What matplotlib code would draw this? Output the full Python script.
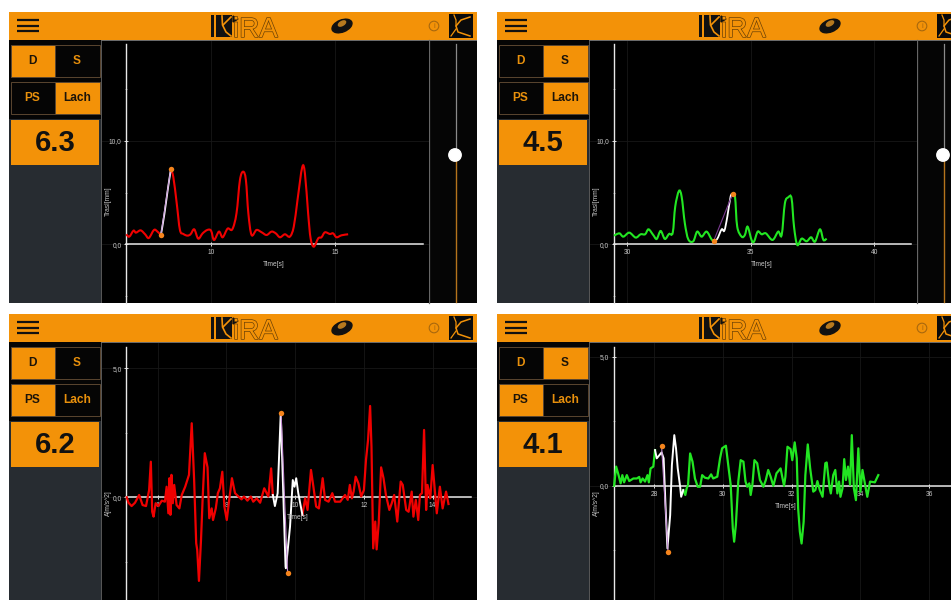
# -*- coding: utf-8 -*-
import matplotlib
matplotlib.use("Agg")
import matplotlib.pyplot as plt
import matplotlib.patches as patches
import matplotlib.patheffects as pe
from matplotlib.path import Path

plt.rcParams['font.family'] = ['Liberation Sans', 'DejaVu Sans']

ORANGE = '#f39208'
SIDE = '#272c31'
RED = '#f00000'
GREEN = '#22e622'

# ---- data ----
# top left, displacement
t1a = [6.56,6.68,6.85,6.95,7.14,7.32,7.47,7.68,7.82,7.96]
v1a = [0.97,0.74,1.32,1.13,1.35,0.97,0.61,1.39,1.23,0.90]
t1w = [7.96,8.10,8.25,8.36]
v1w = [0.90,2.90,5.50,7.19]
t1b = [8.36,8.46,8.60,8.73,8.87,9.03,9.16,9.31,9.47,9.65,9.84,9.99,10.11,10.31,10.46,10.66,10.85,11.02,11.16,11.29,11.40,11.50,11.63,11.83,12.04,12.24,12.44,12.61,12.78,12.98,13.18,13.34,13.49,13.68,13.79,13.92,14.02,14.15,14.33,14.46,14.60,14.80,14.93,15.07,15.27,15.54]
v1b = [7.19,6.55,3.97,1.39,1.00,0.84,0.97,1.45,0.55,1.06,1.39,1.32,0.42,1.23,0.68,1.52,1.45,3.00,6.23,7.03,6.23,3.00,0.90,1.39,1.16,0.90,1.23,1.06,0.68,0.97,0.74,1.71,4.29,7.45,6.87,3.00,0.58,-0.23,0.58,0.68,1.16,1.00,1.06,0.68,0.87,0.97]
t1m = [7.96,8.36]
v1m = [0.90,7.30]

# top right, displacement
t2a = [29.46,29.68,29.84,30.08,30.34,30.54,30.72,30.86,31.05,31.19,31.35,31.52,31.69,31.84,31.94,32.09,32.20,32.33,32.47,32.67,32.83,33.01,33.21,33.41,33.50]
v2a = [0.84,1.06,0.74,1.13,0.65,0.97,0.97,1.45,0.90,0.52,1.29,0.52,1.00,1.13,3.65,5.16,4.61,2.03,0.48,0.29,1.23,0.74,1.23,0.48,0.35]
t2w = [33.50,33.64,33.82,33.93,34.05,34.18,34.26]
v2w = [0.35,0.52,1.45,1.32,2.68,4.61,4.87]
t2b = [34.26,34.36,34.45,34.63,34.76,34.87,35.03,35.13,35.28,35.44,35.61,35.88,36.11,36.25,36.38,36.52,36.65,36.75,36.88,37.06,37.26,37.44,37.60,37.80,37.94,38.07]
v2b = [4.87,4.61,1.71,0.74,0.90,1.71,0.42,0.26,1.23,0.97,1.06,0.42,1.23,0.90,3.97,4.55,4.45,1.71,-0.06,0.55,0.29,0.68,0.26,1.45,0.42,0.55]
t2m = [33.50,34.26]
v2m = [0.35,4.87]

# bottom left, acceleration
t3a = [5.10,5.15,5.24,5.34,5.46,5.56,5.66,5.75,5.80,5.84,5.88,5.94,6.02,6.12,6.21,6.26,6.31,6.34,6.37,6.40,6.44,6.48,6.55,6.63,6.70,6.80,6.91,6.99,7.06,7.12,7.15,7.20,7.26,7.31,7.37,7.45,7.50,7.57,7.61,7.69,7.75,7.81,7.88,7.94,8.01,8.08,8.16,8.25,8.35,8.44,8.51,8.61,8.71,8.78,8.88,8.98,9.10,9.22,9.30,9.35]
v3a = [0,-0.21,-0.34,-0.21,0.09,-0.30,-0.34,0.28,1.38,-0.56,-0.75,-0.23,-0.34,-0.13,-0.17,0.41,-0.62,0.74,-0.68,0.87,-0.23,0.48,-0.30,-0.43,0.09,0.41,0.87,2.87,0.67,-1.78,-2.04,-3.24,-1.65,0.03,1.71,1.16,-0.81,-0.43,-0.88,-0.43,0.16,0.35,0.99,-0.36,-0.88,-0.10,0.74,0.16,0.03,-0.08,0.03,-0.13,0.03,-0.17,-0.04,-0.21,0.35,0.03,1.12,0.09]
t3w = [9.35,9.41,9.49,9.58,9.72,9.73,9.85,9.93,9.98,10.03,10.09,10.21]
v3w = [0.09,-0.34,0.16,3.26,-2.69,-2.75,-1.14,0.67,0.41,0.74,0.16,-0.68]
t3b = [10.21,10.29,10.36,10.46,10.53,10.61,10.69,10.80,10.87,10.97,11.08,11.16,11.31,11.45,11.53,11.59,11.65,11.70,11.76,11.84,11.92,12.00,12.06,12.12,12.18,12.22,12.27,12.33,12.37,12.43,12.50,12.57,12.64,12.74,12.81,12.88,12.97,13.07,13.13,13.23,13.30,13.39,13.44,13.51,13.58,13.63,13.69,13.75,13.81,13.85,13.93,14.00,14.12,14.21,14.29,14.39,14.46]
v3b = [-0.68,-0.04,-0.49,1.06,0.41,-0.36,-0.43,0.74,-0.10,-0.17,0.16,-0.17,-0.17,0.09,-0.10,0.48,-0.04,0.22,0.80,0.54,0.03,0.28,1.45,2.22,3.54,1.96,-1.98,-0.94,-2.02,-1.01,1.16,0.74,0.09,-0.49,-0.23,0.09,-0.94,0.61,0.48,-0.49,-0.56,0.22,-0.75,-0.10,-0.88,0.09,0.16,2.61,-0.49,0.48,-0.04,1.25,-0.62,0.41,-0.43,0.22,-0.26]
t3m = [9.59,9.78]
v3m = [3.26,-2.95]

# bottom right, acceleration
t4a = [26.84,26.90,26.97,27.03,27.08,27.13,27.21,27.28,27.40,27.50,27.57,27.61,27.67,27.74,27.81,27.85,27.90,27.98,28.03]
v4a = [0,0.74,0.41,0.09,0.41,0.13,0.41,0.18,0.28,0.28,0.34,0.13,0.28,0.16,0.41,0.13,0.67,0.74,1.38]
t4w = [28.03,28.08,28.16,28.22,28.28,28.33,28.39,28.47,28.52,28.59,28.64,28.69,28.76,28.79,28.85]
v4w = [1.38,1.06,1.19,1.29,1.06,-0.62,-2.43,-1.14,0.80,1.96,1.45,0.67,-0.04,-0.43,-0.17]
t4b = [28.85,28.91,28.95,28.99,29.05,29.12,29.19,29.27,29.34,29.40,29.48,29.58,29.66,29.72,29.84,29.92,29.98,30.09,30.17,30.23,30.29,30.33,30.38,30.45,30.52,30.60,30.66,30.71,30.77,30.81,30.86,30.92,31.00,31.08,31.18,31.25,31.32,31.39,31.47,31.56,31.68,31.78,31.82,31.88,31.97,32.02,32.09,32.15,32.19,32.24,32.29,32.35,32.40,32.47,32.54,32.63,32.69,32.75,32.82,32.90,32.98,33.02,33.10,33.14,33.21,33.27,33.33,33.38,33.42,33.48,33.53,33.58,33.64,33.70,33.75,33.81,33.87,33.94,34.00,34.06,34.13,34.20,34.28,34.42,34.52]
v4b = [-0.17,-0.36,-0.10,0.03,1.25,0.93,0.28,-0.04,-0.04,0.41,0.31,0.28,0.44,0.28,0.35,1.06,1.45,1.55,0.67,0.03,-1.65,-2.17,-1.52,0.16,0.99,0.93,0.16,-0.04,0.09,-0.36,0.03,0.99,0.87,0.22,-0.04,0.22,0.61,0.35,-0.01,0.48,0.67,-0.01,0.35,1.51,1.42,0.99,1.68,1.06,-0.88,-1.78,-2.24,-1.40,0.41,1.60,0.67,-0.23,-0.17,0.18,-0.17,-0.43,0.87,0.90,-0.04,-0.30,0.41,0.61,-0.30,0.16,-0.43,-0.10,1.03,0.22,0.74,0.03,1.96,-0.10,-0.56,1.45,-0.23,0.61,0.09,-0.43,0.16,0.13,0.41]
t4m = [28.22,28.41]
v4m = [1.54,-2.57]


fig = plt.figure(figsize=(9.51, 6.0), dpi=100, facecolor='white')
ui = fig.add_axes([0, 0, 1, 1], zorder=0)
ui.set_xlim(0, 951)
ui.set_ylim(600, 0)
ui.axis('off')


def rect(x0, y0, x1, y1, color, edge='none', lw=0, z=1):
    ui.add_patch(patches.Rectangle((x0, y0), x1-x0, y1-y0, facecolor=color,
                                   edgecolor=edge, linewidth=lw, zorder=z))


def draw_header(x, y):
    rect(x, y, x+468, y+28, ORANGE)
    for dy in [8, 13.7, 19]:
        ui.plot([x+7.5, x+30], [y+dy, y+dy], color='#111111', lw=1.6, zorder=3,
                solid_capstyle='butt')
    # logo
    rect(x+202, y+3, x+205, y+25, '#111111', z=3)
    rect(x+207, y+3, x+223, y+25, '#111111', z=3)
    ui.plot([x+213, x+213.5, x+217, x+222], [y+4, y+13, y+20, y+24], color=ORANGE, lw=1.2, zorder=4)
    ui.plot([x+222, x+214], [y+5, y+13], color=ORANGE, lw=1.2, zorder=4)
    ui.add_patch(patches.Polygon([(x+224, y+4), (x+229, y+7), (x+224, y+10)], color='#111111', zorder=4))
    ui.text(x+224, y+25, 'iRA', fontsize=20, color=ORANGE, ha='left', va='baseline', zorder=4,
            path_effects=[pe.withStroke(linewidth=1.0, foreground='#6b4106')])
    # device icon
    ui.add_patch(patches.Ellipse((x+333, y+14), 21, 12, angle=-22, color='#111111', zorder=3))
    ui.add_patch(patches.Ellipse((x+333, y+11.5), 8, 4, angle=-30, color='#b77a1f', zorder=4))
    # info icon
    ui.add_patch(patches.Circle((x+425, y+14), 4.8, facecolor='none', edgecolor='#a8680e', lw=0.8, zorder=3))
    ui.text(x+425, y+14, 'i', fontsize=5.5, color='#a8680e', ha='center', va='center', zorder=4)
    # corner logo
    rect(x+440, y+2, x+464, y+26, '#0a0a0a', z=3)
    ui.plot([x+461, x+452, x+447, x+449, x+461], [y+5, y+8, y+14, y+20, y+24], color=ORANGE, lw=1.1, zorder=4)
    ui.plot([x+445, x+447, x+447], [y+3, y+8, y+14], color=ORANGE, lw=0.9, zorder=4)
    ui.plot([x+442, x+447], [y+24, y+17], color=ORANGE, lw=0.9, zorder=4)


def button(x0, y0, x1, y1, label, active):
    rect(x0, y0, x1, y1, ORANGE if active else '#050505', edge='#5a4630', lw=0.7, z=2)
    ui.text((x0+x1)/2, (y0+y1)/2+0.3, label, fontsize=8.6, fontweight='bold', ha='center', va='center',
            color='#1c1408' if active else '#e8900c', zorder=3)


def draw_side(x, y, left1, left2, value):
    # y is the top of the black strip under the header
    rect(x, y, x+92, 600 if y > 300 else y+263, SIDE)
    rect(x, y, x+92, y+79, '#050505', z=1.5)
    rect(x+91.5, y, x+93, 600 if y > 300 else y+263, '#555555', z=1.6)
    rect(x+92, y-0.3, x+468, y+1, '#6a6a6a', z=1.6)
    button(x+1.5, y+5, x+45.5, y+37, 'D', left1)
    button(x+45.5, y+5, x+90.5, y+37, 'S', not left1)
    button(x+1.5, y+42, x+45.5, y+74, 'PS', left2)
    button(x+45.5, y+42, x+90.5, y+74, 'Lach', not left2)
    rect(x+2, y+79.5, x+90, y+125, ORANGE, z=2)
    ui.text(x+46, y+103, value, fontsize=21, fontweight='bold', color='#111111', ha='center', va='center', zorder=3)


def draw_slider(x, y):
    # chart right edge and the threshold slider, only on the two top panels
    rect(x, y+1, x+48, y+263, '#050505')
    ui.plot([x, x], [y, y+263], color='#666666', lw=0.9, zorder=2)
    ui.plot([x+26.5, x+26.5], [y+4, y+115], color='#8a8a8a', lw=0.9, zorder=2)
    ui.plot([x+26.5, x+26.5], [y+115, y+262], color='#b5741c', lw=1.0, zorder=2)
    ui.add_patch(patches.Circle((x+26, y+115), 6.2, color='white', zorder=3))


def smooth(ax, t, v, color, lw, z):
    # same measured points, just joined with curves like the app does
    verts = [(t[0], v[0])]
    codes = [Path.MOVETO]
    for i in range(len(t)-1):
        a = max(i-1, 0)
        b = min(i+2, len(t)-1)
        verts.append((t[i]+(t[i+1]-t[a])/6, v[i]+(v[i+1]-v[a])/6))
        verts.append((t[i+1]-(t[b]-t[i])/6, v[i+1]-(v[b]-v[i])/6))
        verts.append((t[i+1], v[i+1]))
        codes += [Path.CURVE4, Path.CURVE4, Path.CURVE4]
    ax.add_patch(patches.PathPatch(Path(verts, codes), facecolor='none', edgecolor=color, lw=lw, zorder=z))


def draw_chart(px, py, t_ref, px_ref, sc_x, y0_px, sc_y, axis_t, x_end_px, top_px,
               segs, color, chord, marks, chord_col, xticks, xlabels, yticks, ylabels, yminor,
               ylab, ylab_pos, xlab_pos, curved):
    ax = fig.add_axes([px[0]/951, 1-py[1]/600, (px[1]-px[0])/951, (py[1]-py[0])/600],
                      facecolor='black', zorder=2)
    ax.set_xlim(t_ref+(px[0]-px_ref)/sc_x, t_ref+(px[1]-px_ref)/sc_x)
    ax.set_ylim((y0_px-py[1])/sc_y, (y0_px-py[0])/sc_y)
    for s in ['top', 'right']:
        ax.spines[s].set_visible(False)
    ax.spines['bottom'].set_position(('data', 0))
    ax.spines['left'].set_position(('data', axis_t))
    ax.spines['bottom'].set_color('#e8e8e8')
    ax.spines['left'].set_color('#e8e8e8')
    ax.spines['bottom'].set_linewidth(1.1)
    ax.spines['left'].set_linewidth(1.0)
    ax.spines['bottom'].set_bounds(axis_t, t_ref+(x_end_px-px_ref)/sc_x)
    ax.spines['left'].set_bounds((y0_px-py[1])/sc_y, (y0_px-top_px)/sc_y)
    ax.set_xticks(xticks)
    ax.set_xticklabels(xlabels)
    ax.set_yticks(yticks)
    ax.set_yticklabels(ylabels)
    ax.set_yticks(yminor, minor=True)
    ax.tick_params(axis='both', which='major', direction='inout', length=3.5, width=0.7, color='#e0e0e0',
                   labelsize=4.8, labelcolor='#c8c8c8', pad=1.8)
    ax.tick_params(axis='y', which='minor', direction='inout', length=2, width=0.6, color='#888888')
    ax.grid(True, which='major', color='#171717', lw=0.6)
    ax.set_axisbelow(True)

    if curved:
        smooth(ax, segs[0][0], segs[0][1], color, 1.5, 3)
        smooth(ax, segs[2][0], segs[2][1], color, 1.5, 3)
        smooth(ax, segs[1][0], segs[1][1], 'white', 1.3, 4)
    else:
        ax.plot(segs[0][0], segs[0][1], color=color, lw=1.6, zorder=3, solid_joinstyle='round')
        ax.plot(segs[2][0], segs[2][1], color=color, lw=1.6, zorder=3, solid_joinstyle='round')
        ax.plot(segs[1][0], segs[1][1], color='white', lw=1.4, zorder=4, solid_joinstyle='round')
    ax.plot(chord[0], chord[1], color=chord_col, lw=0.8, zorder=5)
    ax.plot(marks[0], marks[1], ls='none', marker='o', ms=3.9, mfc='#f5841c', mec='none', zorder=6)
    ax.text(xlab_pos[0], xlab_pos[1], 'Time[s]', fontsize=4.8, color='#c8c8c8', ha='center', va='center', zorder=7)
    ax.text(ylab_pos[0], ylab_pos[1], ylab, fontsize=4.8, color='#c8c8c8', rotation=90, ha='center', va='center', zorder=7)
    return ax


draw_header(9, 12)
draw_header(497, 12)
draw_header(9, 314)
draw_header(497, 314)

draw_side(9, 40, True, False, '6.3')
draw_side(497, 40, False, False, '4.5')
draw_side(9, 342, True, True, '6.2')
draw_side(497, 342, False, True, '4.1')

draw_slider(429, 40)
draw_slider(917, 40)

draw_chart((102, 429), (41, 303), 10, 211.3, 24.7, 244.3, 10.33, 6.56, 423, 44,
           [(t1a, v1a), (t1w, v1w), (t1b, v1b)], RED, (t1m, v1m), (t1m, v1m), '#c89ad8',
           [10, 15], ['10', '15'], [0, 10], ['0,0', '10,0'], [-5, 5, 15],
           'Trasl[mm]', (5.84, 4.2), (12.54, -2.0), True)
draw_chart((590, 917), (41, 303), 30, 627.3, 24.7, 244.3, 10.33, 29.46, 911, 44,
           [(t2a, v2a), (t2w, v2w), (t2b, v2b)], GREEN, (t2m, v2m), (t2m, v2m), '#7a3a90',
           [30, 35, 40], ['30', '35', '40'], [0, 10], ['0,0', '10,0'], [-5, 5, 15],
           'Trasl[mm]', (28.75, 4.2), (35.43, -2.0), True)
draw_chart((102, 477), (343, 600), 6, 157.7, 34.37, 497.3, 25.8, 5.09, 471, 347,
           [(t3a, v3a), (t3w, v3w), (t3b, v3b)], RED, (t3m, v3m), (t3m, v3m), '#c08ad0',
           [6, 8, 10, 12, 14], ['6', '8', '10', '12', '14'], [0, 5], ['0,0', '5,0'], [-2.5, 2.5],
           'A[m/s^2]', (4.56, -0.22), (10.08, -0.80), False)
draw_chart((590, 951), (343, 600), 28, 654, 34.4, 485.7, 25.8, 26.84, 951, 347,
           [(t4a, v4a), (t4w, v4w), (t4b, v4b)], GREEN, (t4m, v4m), (t4m, v4m), '#c08ad0',
           [28, 30, 32, 34, 36], ['28', '30', '32', '34', '36'], [0, 5], ['0,0', '5,0'], [-2.5, 2.5],
           'A[m/s^2]', (26.32, -0.68), (31.84, -0.81), False)

fig.savefig('out.png', dpi=100, facecolor='white')
